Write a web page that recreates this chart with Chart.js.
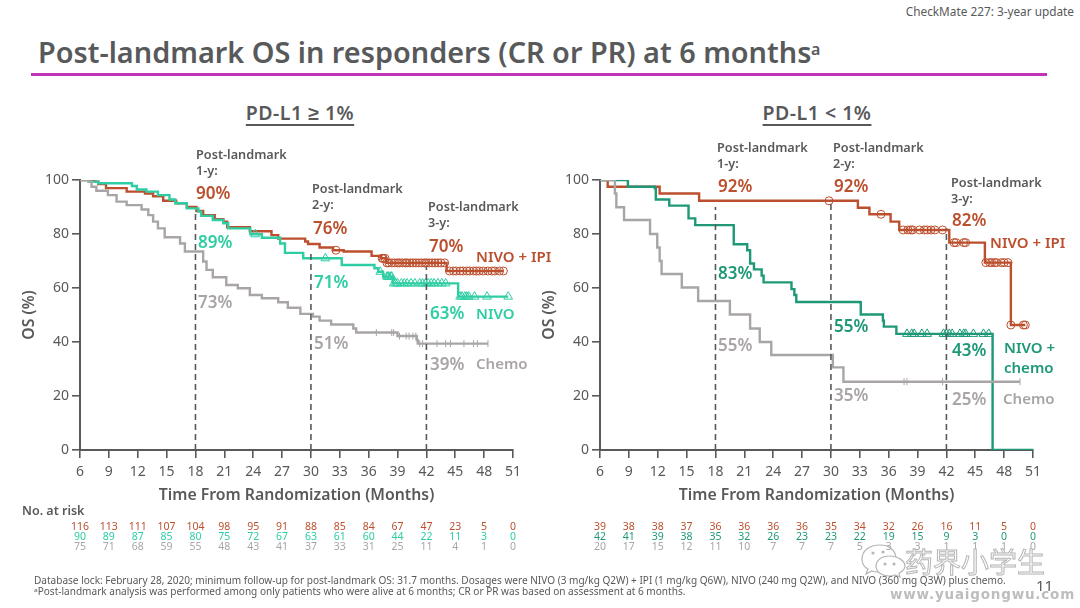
<!DOCTYPE html>
<html>
<head>
<meta charset="utf-8">
<script src="https://cdn.jsdelivr.net/npm/chart.js@4/dist/chart.umd.min.js"></script>
<style>
  html, body { margin:0; padding:0; background:#fff; }
  #page { position:relative; width:1080px; height:608px; overflow:hidden; font-family:"Noto Sans",sans-serif; color:#58595b; }
  canvas { position:absolute; }
  .t { position:absolute; white-space:nowrap; line-height:1; }
</style>
</head>
<body>
<div id="page">
  <canvas id="chartA" style="left:20px;top:130px;width:540px;height:430px" width="540" height="430"></canvas>
  <canvas id="chartB" style="left:540px;top:130px;width:540px;height:430px" width="540" height="430"></canvas>
  <svg style="position:absolute;left:860px;top:543px" width="48" height="36" fill="#ffffff" stroke="#b5b5b5" stroke-width="1.2">
    <path d="M20 2 C9 2 2 8 2 16 C2 20 4 24 8 26 L6 31 L12 28 C14 29 16 29 18 29 C30 29 36 22 36 16 C36 8 30 2 20 2 Z"/>
    <path d="M29 13 C21 13 16 18 16 23 C16 29 22 33 29 33 C31 33 33 33 35 32 L40 34 L39 30 C43 28 45 25 45 23 C45 18 38 13 29 13 Z"/>
    <circle cx="25" cy="21" r="1" fill="#b5b5b5"/><circle cx="34" cy="21" r="1" fill="#b5b5b5"/>
    <circle cx="13" cy="10" r="1" fill="#b5b5b5"/><circle cx="23" cy="9" r="1" fill="#b5b5b5"/>
  </svg>
</div>
<script>
const RED = '#bb4f2e', MINT = '#2ecda3', TEAL = '#1f9878', GREY = '#a9a5a6', INK = '#58595b';

const xTicks = [6,9,12,15,18,21,24,27,30,33,36,39,42,45,48,51];
const yTicks = [0,20,40,60,80,100];
const landmarks = [18,30,42];

// PD-L1 >= 1%
const ipiAX = [6,7.56,7.9,8.7,10.85,12.75,13.6,14.65,16,17.1,18.1,18.8,20,20.9,21.3,23.65,25.9,26.6,29.4,29.7,30.9,32.3,33.4,36.3,37.3,37.85,44.1,50];
const ipiAY = [100,99.4,98.5,97,95.7,95,94,92.3,91.4,90,88.5,87,85.5,84.6,82.5,81,79.6,78.3,77.2,76.3,75,74,73.5,71.9,71,69.3,66.3,66.3];
const nivoAX = [6,6.9,7.9,11.4,11.9,12.9,14.1,15.3,15.9,17.1,18.3,18.6,19.8,20.9,21.4,23.7,24.9,26.8,27.3,29.2,33.2,36.6,37,37.5,38.5,45.3,50.5];
const nivoAY = [100,99.4,98.8,97.8,96.5,95.7,94.4,92.8,91.4,89.5,88.3,86.7,85.2,84,82.1,79.9,78.6,76.5,73,71,68.5,67.3,66,64.2,61.7,56.8,56.8];
const chemoAX = [6,6.9,7.2,7.7,8.9,9.8,10.85,12.4,13.1,13.6,14.1,14.8,16.4,16.9,18.8,19.15,19.8,21.2,22.4,23.65,24.9,26.6,27.6,28.9,30.2,30.9,32.1,34.4,34.7,39,41,41.1,48.4];
const chemoAY = [100,99.4,97.5,96,94.4,92,90.7,89.1,87,84.6,82.1,78.8,76.5,73.5,69.8,66.7,64,61.1,59.9,57.4,56.2,54.7,52.7,50.4,49.4,47.9,46.5,45,43.5,42.2,40.7,39.4,39.4];
const ipiACens = [32.6,37.4,37.5,37.7,37.9,38.1,38.4,38.7,39,39.2,39.5,39.8,40,40.3,40.6,40.9,41.2,41.5,41.8,42,42.3,42.6,42.9,43.2,43.5,43.9,44.4,44.8,45.1,45.5,45.8,46.2,46.5,46.9,47.2,47.5,47.9,48.4,48.8,49.1,49.6,50];
const nivoACens = [24.2,31.5,37.2,37.9,38,38.1,38.3,38.4,38.6,38.8,39,39.4,39.7,40,40.4,40.8,41.3,41.6,41.9,42.2,42.5,42.8,43.2,43.6,44,45.5,45.7,46,46.2,46.4,47,48.3,50.5];
const chemoACens = [36.8,38.4,38.6,39.2,39.9,40.2,40.6,40.9,41.3,41.6,43.1,44,44.5,45.9,46.9,47.3,48.4];
const landmarkTopA = [88,74,68];

// PD-L1 < 1%
const ipiBX = [6,6.8,12.2,16.3,32.8,34,36.2,37.1,42.3,46,48.7,50.2];
const ipiBY = [100,97.5,95,92.3,89.7,87.3,84.6,81.5,76.8,69.4,46.3,46.3];
const nivoBX = [6,8.9,11.7,11.8,13.2,15.2,15.9,19.9,21.3,21.6,22,22.8,23,25.9,26.2,26.4,33,33.1,35.4,35.5,36.8,46.8,51];
const nivoBY = [100,97.5,96.9,92.8,90.5,85.8,83.3,76.2,74,69.1,66.9,64.6,62.1,59.6,57.4,54.8,54.7,50.2,47.9,45.7,43,0,0];
const chemoBX = [6,7.55,7.7,8.5,11.2,11.95,12.2,12.4,14.5,16.2,19.5,21.6,22.6,23.8,30.2,31.3,49.65];
const chemoBY = [100,95,89.9,85.2,80,75,70,65.2,60.2,55.2,50.2,45,40,35.2,30.6,25.3,25.3];
const ipiBCens = [29.8,35.2,37.5,38,38.3,38.5,39.2,39.7,40,40.4,40.8,41.6,42.8,43,43.8,44,46.1,46.5,46.7,47,47.2,47.7,48,48.4,48.7,50,50.2];
const nivoBCens = [37.9,38.4,38.65,39.45,40,41.7,42,42.3,42.6,43.4,43.8,44,44.8,45.85,46.4];
const chemoBCens = [37.6,37.9,41.6,49.65];
const landmarkTopB = [90,92,82];

// numbers at risk
const riskMonths = [6,9,12,15,18,21,24,27,30,33,36,39,42,45,48,51];
const riskIpiA = [116,113,111,107,104,98,95,91,88,85,84,67,47,23,5,0];
const riskNivoA = [90,89,87,85,80,75,72,67,63,61,60,44,22,11,3,0];
const riskChemoA = [75,71,68,59,55,48,43,41,37,33,31,25,11,4,1,0];
const riskIpiB = [39,38,38,37,36,36,36,36,35,34,32,26,16,11,5,0];
const riskNivoB = [42,41,39,38,35,32,26,23,23,22,19,15,9,3,0,0];
const riskChemoB = [20,17,15,12,11,10,7,7,7,5,3,3,1,1,1,0];

function steps(xs, ys) { return xs.map((x, i) => ({x: x, y: ys[i]})) }

// a censor mark sits on the curve at that month
function onCurve(times, xs, ys) {
  return times.map((t) => {
    let y = ys[0];
    for (let i = 0; i < xs.length; i++) { if (xs[i] <= t) y = ys[i] }
    return {x: t, y: y};
  })
}

function curve(xs, ys, color) {
  return {data: steps(xs, ys), borderColor: color, borderWidth: 2.4, stepped: 'before', pointRadius: 0, fill: false};
}
function marks(times, xs, ys, color, style, size) {
  return {data: onCurve(times, xs, ys), showLine: false, pointStyle: style, pointRadius: size,
          pointBorderColor: color, pointBackgroundColor: 'rgba(0,0,0,0)', pointBorderWidth: 1,
          pointRotation: style === 'line' ? 90 : 0};
}
function dashes(tops) {
  return landmarks.map((m, i) => ({data: [{x: m, y: 0}, {x: m, y: tops[i]}], borderColor: INK,
    borderWidth: 1.6, borderDash: [6,4], pointRadius: 0, fill: false}));
}

function makeChart(id, datasets, padRight) {
  return new Chart(document.getElementById(id), {
    type: 'line',
    data: {datasets: datasets},
    options: {
      responsive: false, animation: false, events: [],
      layout: {padding: {top: 50, bottom: 50, right: padRight, left: 0}},
      plugins: {legend: {display: false}, tooltip: {enabled: false}},
      scales: {
        x: {
          type: 'linear', min: 6, max: 51,
          afterBuildTicks: (a) => { a.ticks = xTicks.map((v) => ({value: v})) },
          afterFit: (a) => { a.height = 60 },
          grid: {display: true, drawOnChartArea: false, tickLength: 8, color: INK, lineWidth: 1.6},
          border: {color: INK, width: 2},
          ticks: {color: INK, font: {family: 'Noto Sans', size: 14}, padding: 6, maxRotation: 0, autoSkip: false},
          title: {display: true, text: 'Time From Randomization (Months)', color: INK, padding: {top: 0, bottom: 5},
                  font: {family: 'Noto Sans', size: 15.8, weight: '600'}}
        },
        y: {
          min: 0, max: 100,
          afterBuildTicks: (a) => { a.ticks = yTicks.map((v) => ({value: v})) },
          afterFit: (a) => { a.width = 60 },
          grid: {display: true, drawOnChartArea: false, tickLength: 8, color: INK, lineWidth: 1.6},
          border: {color: INK, width: 2},
          ticks: {color: INK, font: {family: 'Noto Sans', size: 14}, padding: 3},
          title: {display: true, text: 'OS (%)', color: INK, padding: {top: 0, bottom: 0},
                  font: {family: 'Noto Sans', size: 15.8, weight: '600'}}
        }
      }
    }
  });
}

const chartA = makeChart('chartA', [
  ...dashes(landmarkTopA),
  curve(chemoAX, chemoAY, GREY), marks(chemoACens, chemoAX, chemoAY, GREY, 'line', 3.5),
  curve(nivoAX, nivoAY, MINT), marks(nivoACens, nivoAX, nivoAY, MINT, 'triangle', 5),
  curve(ipiAX, ipiAY, RED), marks(ipiACens, ipiAX, ipiAY, RED, 'circle', 4)
], 47);

const chartB = makeChart('chartB', [
  ...dashes(landmarkTopB),
  curve(chemoBX, chemoBY, GREY), marks(chemoBCens, chemoBX, chemoBY, GREY, 'line', 3.5),
  curve(nivoBX, nivoBY, TEAL), marks(nivoBCens, nivoBX, nivoBY, TEAL, 'triangle', 5),
  curve(ipiBX, ipiBY, RED), marks(ipiBCens, ipiBX, ipiBY, RED, 'circle', 4)
], 47);

const page = document.getElementById('page');

// baseline placement of a text, align is left/center/right
function put(text, x, base, size, color, weight, align, extra) {
  const d = document.createElement('div');
  d.className = 't';
  d.textContent = text;
  d.style.fontSize = size + 'px';
  d.style.color = color;
  d.style.fontWeight = weight || 'normal';
  d.style.top = (base - size * 0.86) + 'px';
  if (align === 'center') { d.style.left = x + 'px'; d.style.transform = 'translateX(-50%)' }
  else if (align === 'right') { d.style.right = (1080 - x) + 'px' }
  else d.style.left = x + 'px';
  if (extra) Object.assign(d.style, extra);
  page.appendChild(d);
  return d;
}

function riskRow(chart, values, base, color) {
  values.forEach((v, i) => put(String(v), chart.scales.x.getPixelForValue(riskMonths[i]) + chart.canvas.offsetLeft, base, 10.5, color, 'normal', 'center'));
}

// header
put('CheckMate 227: 3-year update', 1074, 16, 11.8, INK, 'normal', 'right');
put('Post-landmark OS in responders (CR or PR) at 6 months', 38, 63, 28.85, INK, '600');
put('a', 811, 55, 16, INK, '600');
const rule = document.createElement('div');
rule.style.cssText = 'position:absolute;left:31px;top:72.5px;width:1016px;height:3.5px;background:#c034b8';
page.appendChild(rule);

const underl = {textDecoration: 'underline', textUnderlineOffset: '4px', textDecorationThickness: '2px', letterSpacing: '0.5px'};
put('PD-L1 \u2265 1%', 300, 120, 19.5, INK, '600', 'center', underl);
put('PD-L1 < 1%', 817, 120, 19.5, INK, '600', 'center', underl);

// landmark captions
[['1-y:',196,159],['2-y:',312,193],['3-y:',428,211],['1-y:',717,152],['2-y:',833,152],['3-y:',951,187]].forEach((c) => {
  put('Post-landmark', c[1], c[2], 12.7, INK, '600');
  put(c[0], c[1], c[2] + 16, 12.7, INK, '600');
});

const pctLabels = [
  ['90%',196,199,RED],['89%',198,248,MINT],['73%',198,308,GREY],
  ['76%',313,234,RED],['71%',314,288,MINT],['51%',314,349,GREY],
  ['70%',429,252,RED],['63%',430,319,MINT],['39%',430,370,GREY],
  ['92%',718,192,RED],['83%',718,279,TEAL],['55%',718,351,GREY],
  ['92%',834,192,RED],['55%',834,332,TEAL],['35%',834,401,GREY],
  ['82%',952,226,RED],['43%',952,356,TEAL],['25%',952,405,GREY]
];
pctLabels.forEach((p) => put(p[0], p[1], p[2], 17, p[3], '600'));

const armLabels = [
  ['NIVO + IPI',476,262,RED],['NIVO',476,319,MINT],['Chemo',476,369,GREY],
  ['NIVO + IPI',990,248,RED],['NIVO +',1004,353,TEAL],['chemo',1004,373,TEAL],['Chemo',1003,404,GREY]
];
armLabels.forEach((p) => put(p[0], p[1], p[2], 15, p[3], '600'));

// numbers at risk
put('No. at risk', 22, 516, 12.5, INK, '600');
riskRow(chartA, riskIpiA, 530, RED);
riskRow(chartA, riskNivoA, 540, MINT);
riskRow(chartA, riskChemoA, 550, GREY);
riskRow(chartB, riskIpiB, 530, RED);
riskRow(chartB, riskNivoB, 540, TEAL);
riskRow(chartB, riskChemoB, 550, GREY);

// footnotes
put('Database lock: February 28, 2020; minimum follow-up for post-landmark OS: 31.7 months. Dosages were NIVO (3 mg/kg Q2W) + IPI (1 mg/kg Q6W), NIVO (240 mg Q2W), and NIVO (360 mg Q3W) plus chemo.', 34, 584, 10.05, INK);
put('\u1d43Post-landmark analysis was performed among only patients who were alive at 6 months; CR or PR was based on assessment at 6 months.', 34, 595, 10.05, INK);
put('11', 1036, 591, 15, INK);

// site watermark
const wm = {WebkitTextStroke: '1px #b5b5b5', fontFamily: '"Noto Sans CJK SC"'};
put('\u836f\u754c\u5c0f\u5b66\u751f', 905, 571, 28, '#ffffff', 'normal', 'left', wm);
put('www.yuaigongwu.com', 890, 600, 13.5, '#bdbdbd', 'bold', 'left', {letterSpacing: '0.8px', fontFamily: '"DejaVu Sans"'});
</script>
</body>
</html>
